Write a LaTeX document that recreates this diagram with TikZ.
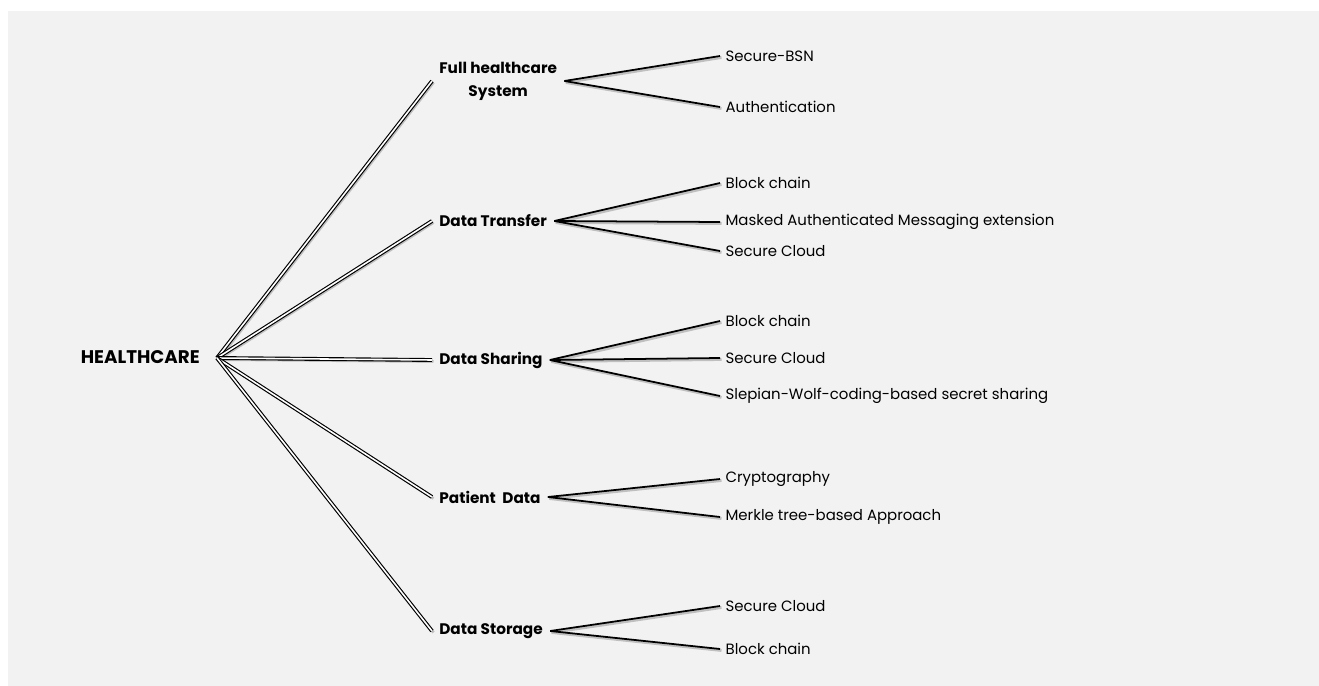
\documentclass[tikz,border=0pt]{standalone}
\usepackage{fontspec}
\setmainfont{Poppins}
\usepackage{tikz}
\usetikzlibrary{positioning}
\definecolor{bggray}{HTML}{F2F2F2}

\begin{document}
\begin{tikzpicture}[x=0.02cm, y=-0.02cm,
    root/.style={font=\bfseries\fontsize{10.4}{12}\selectfont, anchor=west, inner sep=2pt},
    topic/.style={font=\bfseries\fontsize{8.7}{13}\selectfont, anchor=west, inner xsep=4pt, inner ysep=1pt, align=center},
    item/.style={font=\fontsize{8.5}{10}\selectfont, anchor=west, inner sep=3pt},
    shade/.style={preaction={draw=black!25, line width=1.6pt, transform canvas={shift={(1.5,1.5)}}}},
    trunk/.style={shade, double=white, double distance=0.9pt, line width=0.65pt},
    twig/.style={shade, line width=1pt}]
  \useasboundingbox (0,0) rectangle (1319,686);
  \fill[bggray] (8,11) rectangle (1319,686);

  % root
  \node[root] (hc) at (77,357) {HEALTHCARE};
  \coordinate (hub) at (217,358);

  % topics
  \node[topic] (full) at (432,81) {Full healthcare\\System};
  \node[topic] (transfer) at (432,221) {Data Transfer};
  \node[topic] (sharing) at (432,360) {Data Sharing};
  \node[topic] (patient) at (432,497) {Patient~~Data};
  \node[topic] (storage) at (432,631) {Data Storage};

  \foreach \t in {full,transfer,sharing,patient,storage}
    \draw[trunk] (hub) -- (\t.west);

  % leaves
  \node[item] (bsn) at (720,56) {Secure-BSN};
  \node[item] (auth) at (720,107) {Authentication};
  \node[item] (tbc) at (720,183) {Block chain};
  \node[item] (mam) at (720,222) {Masked Authenticated Messaging extension};
  \node[item] (tsc) at (720,251) {Secure Cloud};
  \node[item] (sbc) at (720,321) {Block chain};
  \node[item] (ssc) at (720,358) {Secure Cloud};
  \node[item] (sws) at (720,396) {Slepian-Wolf-coding-based secret sharing};
  \node[item] (cry) at (720,479) {Cryptography};
  \node[item] (mtb) at (720,517) {Merkle tree-based Approach};
  \node[item] (dsc) at (720,606) {Secure Cloud};
  \node[item] (dbc) at (720,649) {Block chain};

  \draw[twig] (full.east) -- (bsn.west);
  \draw[twig] (full.east) -- (auth.west);
  \draw[twig] (transfer.east) -- (tbc.west);
  \draw[twig] (transfer.east) -- (mam.west);
  \draw[twig] (transfer.east) -- (tsc.west);
  \draw[twig] (sharing.east) -- (sbc.west);
  \draw[twig] (sharing.east) -- (ssc.west);
  \draw[twig] (sharing.east) -- (sws.west);
  \draw[twig] (patient.east) -- (cry.west);
  \draw[twig] (patient.east) -- (mtb.west);
  \draw[twig] (storage.east) -- (dsc.west);
  \draw[twig] (storage.east) -- (dbc.west);
\end{tikzpicture}
\end{document}
